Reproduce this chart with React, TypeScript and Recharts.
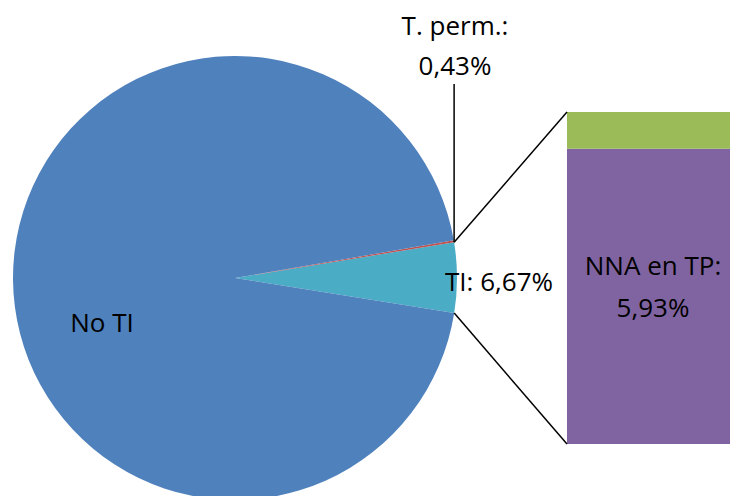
import { PieChart, Pie, Cell, BarChart, Bar, XAxis, YAxis } from 'recharts';

// pie slices (shares as drawn in the picture), starting at the right and going counter-clockwise
const pieNames = ['TI', 'T. perm.', 'No TI'];
const pieShares = [5.1, 0.14, 94.76];
const pieColors = ['#4BACC6', '#C0504D', '#4F81BD'];

// breakdown of the TI slice shown in the bar
const barNames = ['NNA en TP', 'Otros'];
const barValues = [5.93, 0.74];
const barColors = ['#8064A2', '#9BBB59'];

const W = 730;
const H = 496;
const CX = 235;
const CY = 278;
const R = 222;
const START = -9.1;

const BAR_X = 567;
const BAR_Y = 112;
const BAR_W = 163;
const BAR_H = 332;

const FONT = '"Open Sans", "Noto Sans", sans-serif';

const pieData = pieNames.map((name, i) => ({ name, value: pieShares[i] }));
const barData = [{ name: 'TI', [barNames[0]]: barValues[0], [barNames[1]]: barValues[1] }];

function point(deg: number) {
  const a = (deg * Math.PI) / 180;
  return { x: CX + R * Math.cos(a), y: CY - R * Math.sin(a) };
}

export default function App() {
  const total = pieShares.reduce((s, v) => s + v, 0);
  const tiEnd = START + (360 * pieShares[0]) / total;
  const low = point(START);
  const high = point(tiEnd);

  return (
    <div style={{ position: 'absolute', left: 0, top: 0, width: W, height: H, background: '#fff' }}>
      <PieChart width={W} height={H} margin={{ top: 0, right: 0, bottom: 0, left: 0 }}>
        <Pie
          data={pieData}
          dataKey="value"
          cx={CX}
          cy={CY}
          outerRadius={R}
          startAngle={START}
          endAngle={START + 360}
          stroke="none"
          isAnimationActive={false}
        >
          {pieData.map((d, i) => (
            <Cell key={d.name} fill={pieColors[i]} />
          ))}
        </Pie>
      </PieChart>

      <div style={{ position: 'absolute', left: BAR_X, top: BAR_Y }}>
        <BarChart
          width={BAR_W}
          height={BAR_H}
          data={barData}
          margin={{ top: 0, right: 0, bottom: 0, left: 0 }}
          barCategoryGap={0}
        >
          <XAxis dataKey="name" hide />
          <YAxis hide domain={[0, barValues[0] + barValues[1]]} />
          {barNames.map((n, i) => (
            <Bar key={n} dataKey={n} stackId="a" fill={barColors[i]} isAnimationActive={false} />
          ))}
        </BarChart>
      </div>

      <svg
        width={W}
        height={H}
        style={{ position: 'absolute', left: 0, top: 0, pointerEvents: 'none' }}
        fontFamily={FONT}
        fontSize={26}
        fill="#000"
      >
        <line x1={high.x} y1={high.y} x2={BAR_X} y2={BAR_Y} stroke="#000" strokeWidth={1.5} />
        <line x1={low.x} y1={low.y} x2={BAR_X} y2={BAR_Y + BAR_H} stroke="#000" strokeWidth={1.5} />
        <line x1={high.x} y1={high.y} x2={high.x} y2={84} stroke="#000" strokeWidth={1.5} />

        <text x={455} y={35} textAnchor="middle">T. perm.:</text>
        <text x={455} y={75} textAnchor="middle">0,43%</text>
        <text x={499} y={291} textAnchor="middle">TI: 6,67%</text>
        <text x={102} y={332} textAnchor="middle">No TI</text>
        <text x={653} y={275} textAnchor="middle">NNA en TP:</text>
        <text x={653} y={317} textAnchor="middle">5,93%</text>
      </svg>
    </div>
  );
}
